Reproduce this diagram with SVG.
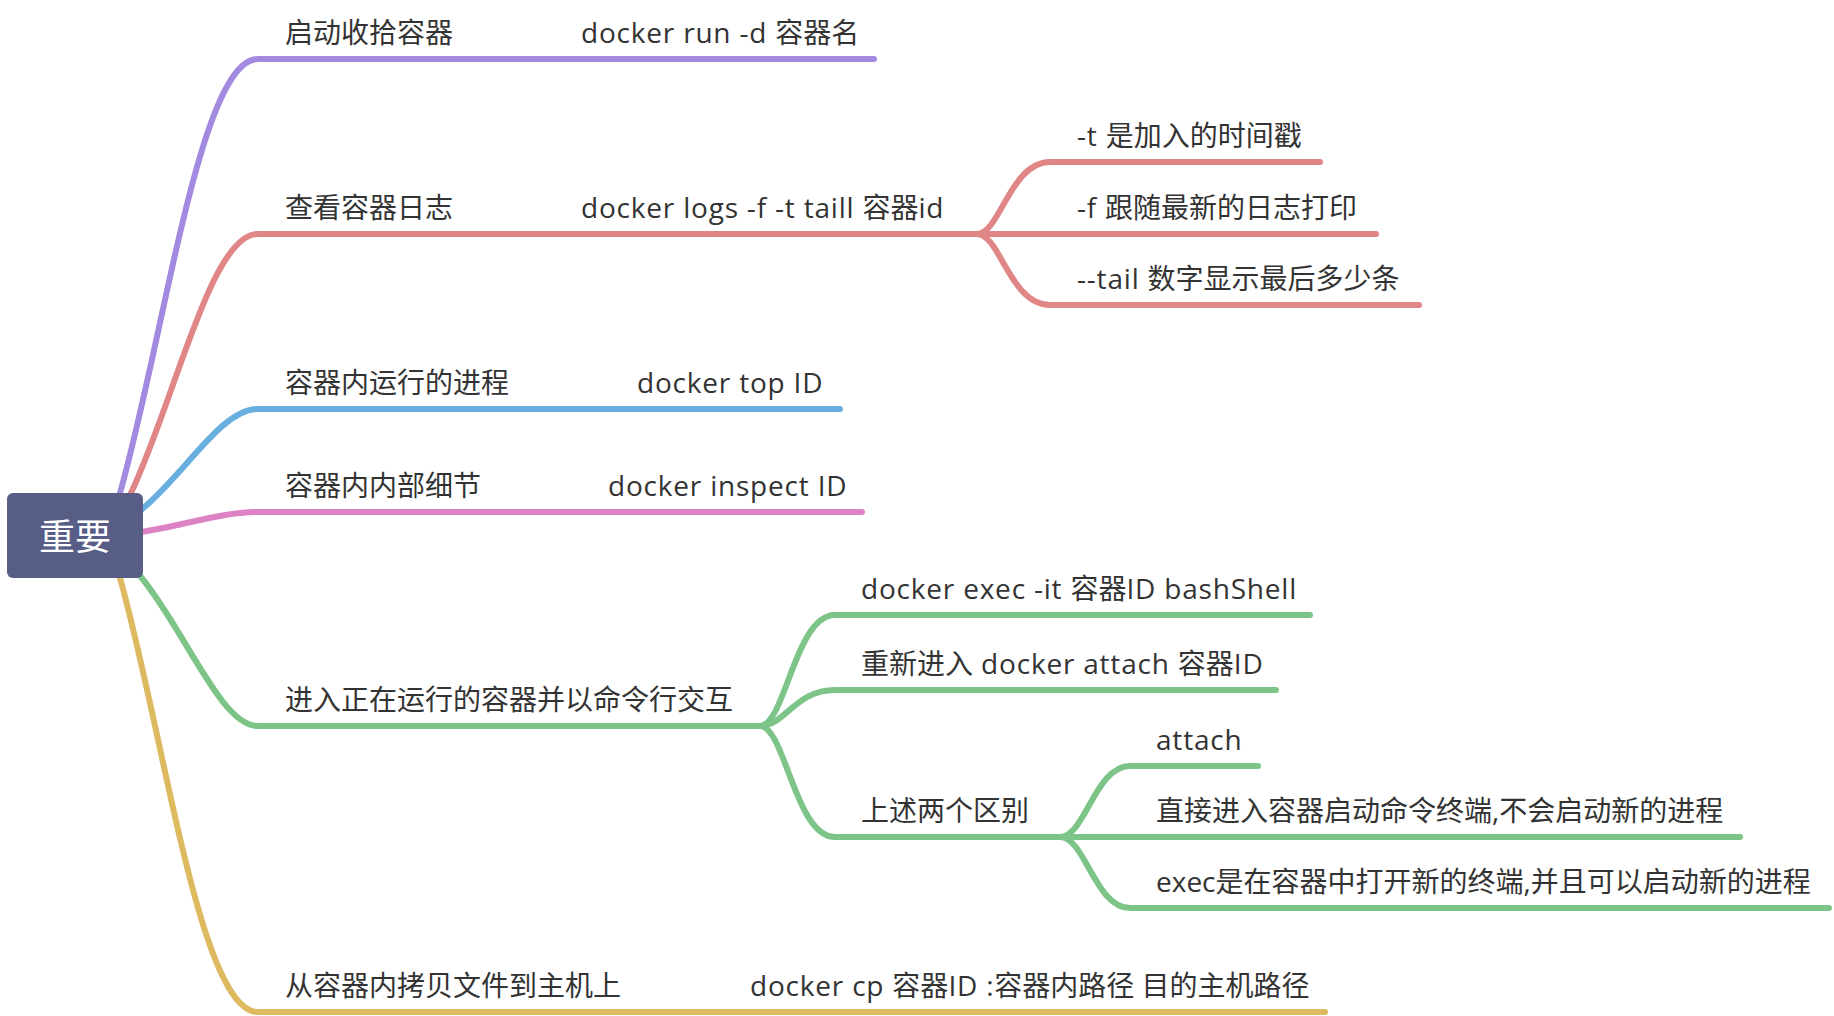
<svg xmlns="http://www.w3.org/2000/svg" width="1834" height="1016" viewBox="0 0 1834 1016">
<style>
.t{font-family:"Open Sans","Noto Sans CJK SC",sans-serif;font-size:28px;fill:#333333}
.l{letter-spacing:0.8px}
.r{font-family:"Noto Sans CJK SC",sans-serif;font-size:36px;fill:#ffffff}
.c{fill:none;stroke-width:6;stroke-linecap:round;stroke-linejoin:round}
.pu{stroke:#a28ae0}.re{stroke:#e08686}.bl{stroke:#68afe0}.pi{stroke:#dd82c4}.gr{stroke:#7cc487}.ye{stroke:#ddb95f}
</style>
<rect width="1834" height="1016" fill="#ffffff"/>
<g id="connectors">
<path class="c pu" d="M120,493 C165,333 200,59 258,59 L874,59"/>
<path class="c re" d="M131,493 C176,397 211,234 258,234 L977,234"/>
<path class="c re" d="M977,234 C1000,234 1010,162 1050,162 L1320,162"/>
<path class="c re" d="M977,234 L1376,234"/>
<path class="c re" d="M977,234 C1000,234 1010,305 1050,305 L1419,305"/>
<path class="c bl" d="M141,510 C186,473 221,409 258,409 L840,409"/>
<path class="c pi" d="M141,532 C186,525 221,512 258,512 L862,512"/>
<path class="c gr" d="M141,577 C186,632 221,726 258,726 L760,726"/>
<path class="c gr" d="M760,726 C785,726 795,615 835,615 L1310,615"/>
<path class="c gr" d="M760,726 C785,726 795,690 835,690 L1276,690"/>
<path class="c gr" d="M760,726 C785,726 795,837 835,837 L1060,837"/>
<path class="c gr" d="M1060,837 C1085,837 1095,766 1130,766 L1258,766"/>
<path class="c gr" d="M1060,837 L1740,837"/>
<path class="c gr" d="M1060,837 C1085,837 1095,908 1130,908 L1829,908"/>
<path class="c ye" d="M120,578 C165,739 200,1012 258,1012 L1325,1012"/>
</g>
<g id="root">
<rect x="7" y="493" width="136" height="85" rx="6" fill="#575d85"/>
<text class="r" x="75" y="550" text-anchor="middle">重要</text>
</g>
<g id="n1"><text class="t" x="285" y="43">启动收拾容器</text></g>
<g id="n1a"><text class="t" x="581" y="43"><tspan class="l">docker run -d </tspan>容器名</text></g>
<g id="n2"><text class="t" x="285" y="218">查看容器日志</text></g>
<g id="n2a"><text class="t" x="581" y="218"><tspan class="l">docker logs -f -t taill </tspan>容器<tspan class="l">id</tspan></text></g>
<g id="n2a1"><text class="t" x="1077" y="146"><tspan class="l">-t </tspan>是加入的时间戳</text></g>
<g id="n2a2"><text class="t" x="1077" y="218"><tspan class="l">-f </tspan>跟随最新的日志打印</text></g>
<g id="n2a3"><text class="t" x="1077" y="289"><tspan class="l">--tail </tspan>数字显示最后多少条</text></g>
<g id="n3"><text class="t" x="285" y="393">容器内运行的进程</text></g>
<g id="n3a"><text class="t" x="637" y="393"><tspan class="l">docker top ID</tspan></text></g>
<g id="n4"><text class="t" x="285" y="496">容器内内部细节</text></g>
<g id="n4a"><text class="t" x="608" y="496"><tspan class="l">docker inspect ID</tspan></text></g>
<g id="n5"><text class="t" x="285" y="710">进入正在运行的容器并以命令行交互</text></g>
<g id="n5a"><text class="t" x="861" y="599"><tspan class="l">docker exec -it </tspan>容器<tspan class="l">ID bashShell</tspan></text></g>
<g id="n5b"><text class="t" x="861" y="674">重新进入<tspan class="l"> docker attach </tspan>容器<tspan class="l">ID</tspan></text></g>
<g id="n5c"><text class="t" x="861" y="821">上述两个区别</text></g>
<g id="n5c1"><text class="t" x="1156" y="750"><tspan class="l">attach</tspan></text></g>
<g id="n5c2"><text class="t" x="1156" y="821">直接进入容器启动命令终端,不会启动新的进程</text></g>
<g id="n5c3"><text class="t" x="1156" y="892">exec是在容器中打开新的终端,并且可以启动新的进程</text></g>
<g id="n6"><text class="t" x="285" y="996">从容器内拷贝文件到主机上</text></g>
<g id="n6a"><text class="t" x="750" y="996"><tspan class="l">docker cp </tspan>容器<tspan class="l">ID :</tspan>容器内路径 目的主机路径</text></g>
</svg>
